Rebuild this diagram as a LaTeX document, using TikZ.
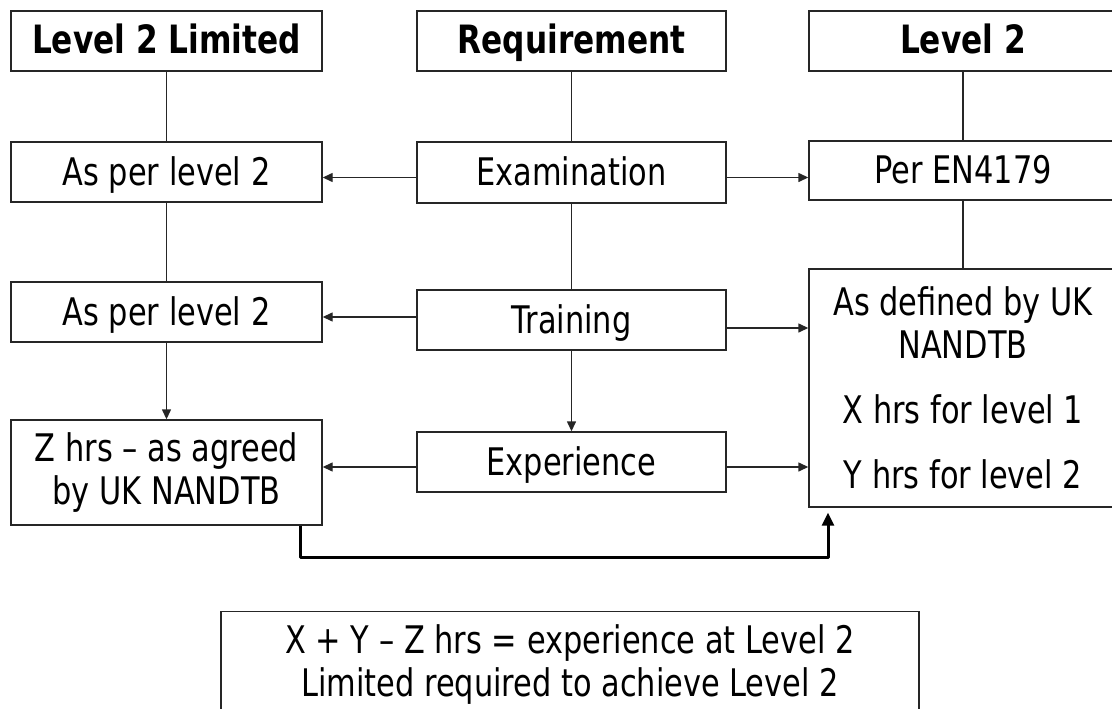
\documentclass[tikz,border=0pt]{standalone}
\usepackage{fontspec}
\setmainfont{DejaVu Sans}[FakeStretch=0.8]
\usetikzlibrary{arrows.meta,calc}
\begin{document}
\begin{tikzpicture}[x=1pt,y=-1pt,
  box/.style={draw=black!85, line width=1.4pt, inner sep=0pt, minimum width=310pt, minimum height=60pt, font=\fontsize{38}{43}\selectfont, align=center},
  one/.style={text height=29pt, text depth=3pt},
  title/.style={box, one, font=\fontsize{39}{44}\selectfont\bfseries},
  link/.style={draw=black!85, line width=1.4pt},
  arr/.style={link, -{Triangle[length=10pt,width=9pt]}},
  barr/.style={draw=black, line width=3pt, line join=round, -{Triangle[length=13pt,width=12pt]}}]
\path[use as bounding box] (0,0) rectangle (1112,709);
\clip (0,0) rectangle (1112,709);

\node[title, minimum width=311pt] (l1) at (166.5,41) {Level 2 Limited};
\node[title, minimum width=309pt] (req) at (571.5,41) {Requirement};
\node[title, minimum width=308pt] (r1) at (963,41) {Level 2};

\node[box, one, minimum width=311pt] (l2) at (166.5,172) {As per level 2};
\node[box, one, minimum width=309pt, minimum height=61pt] (exam) at (571.5,172.5) {Examination};
\node[box, one, minimum width=308pt, minimum height=59pt] (r2) at (963,170.5) {Per EN4179};

\node[box, one, minimum width=311pt] (l3) at (166.5,312) {As per level 2};
\node[box, one, minimum width=309pt] (train) at (571.5,320) {Training};
\node[box, minimum width=308pt, minimum height=238pt] (big) at (963,388) {As defined by UK\\NANDTB\\[22pt]X hrs for level 1\\[22pt]Y hrs for level 2};

\node[box, minimum width=311pt, minimum height=105pt] (zb) at (166.5,472.5) {Z hrs – as agreed\\by UK NANDTB};
\node[box, one, minimum width=309pt] (exp) at (571.5,462) {Experience};

\node[box, anchor=north, minimum width=698pt, minimum height=106pt] (sum) at (570,611) {X + Y – Z hrs = experience at Level 2\\Limited required to achieve Level 2};

\draw[link] (l1) -- (l2);
\draw[link] (l2) -- (l3);
\draw[arr] (l3) -- (zb);
\draw[link] (req) -- (exam);
\draw[link] (exam) -- (train);
\draw[arr] (train) -- (exp);
\draw[link] (r1) -- (r2);
\draw[link] (r2) -- (big);

\coordinate (e1) at ([yshift=-5pt]exam.west);
\draw[arr] (e1) -- (e1 -| l2.east);
\coordinate (e2) at ([yshift=-5pt]exam.east);
\draw[arr] (e2) -- (e2 -| r2.west);
\coordinate (t1) at ([yshift=3pt]train.west);
\draw[arr] (t1) -- (t1 -| l3.east);
\coordinate (t2) at ([yshift=-8pt]train.east);
\draw[arr] (t2) -- (t2 -| big.west);
\coordinate (x1) at ([yshift=-5pt]exp.west);
\draw[arr] (x1) -- (x1 -| zb.east);
\coordinate (x2) at ([yshift=-5pt]exp.east);
\draw[arr] (x2) -- (x2 -| big.west);

\coordinate (b1) at (300,557);
\coordinate (b2) at (828,557);
\coordinate (b3) at ($(b2 |- big.south)+(0,5)$);
\draw[barr] (zb.south -| b1) -- (b1) -- (b2) -- (b3);
\end{tikzpicture}
\end{document}
